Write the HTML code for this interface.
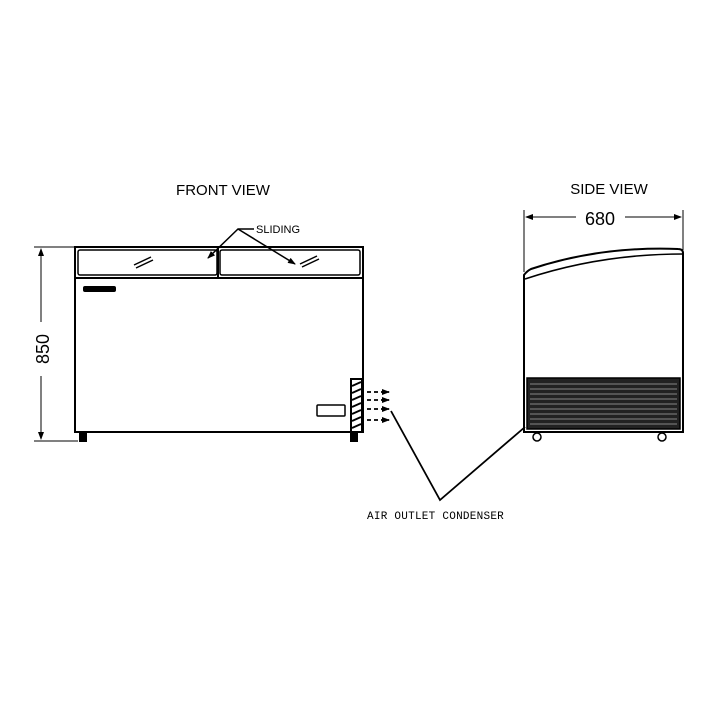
<!DOCTYPE html>
<html><head><style>body{margin:0;background:#fff}svg{display:block}</style></head><body>
<svg width="720" height="720" viewBox="0 0 720 720" xmlns="http://www.w3.org/2000/svg" font-family="Liberation Sans, sans-serif">
<defs><marker id="a" markerWidth="8" markerHeight="6" refX="7" refY="3" orient="auto-start-reverse" markerUnits="userSpaceOnUse"><path d="M0,0L8,3L0,6z" fill="#000"/></marker></defs>
<text x="223" y="195" font-size="15" text-anchor="middle">FRONT VIEW</text>
<text x="609" y="194" font-size="15" text-anchor="middle">SIDE VIEW</text>
<rect x="75" y="247" width="288" height="185" fill="none" stroke="#000" stroke-width="2"/>
<line x1="75" y1="278" x2="363" y2="278" stroke="#000" stroke-width="2"/>
<rect x="78" y="250" width="139" height="25" rx="2" fill="none" stroke="#000" stroke-width="1.5"/>
<rect x="220" y="250" width="140" height="25" rx="2" fill="none" stroke="#000" stroke-width="1.5"/>
<line x1="218" y1="248" x2="218" y2="278" stroke="#000" stroke-width="2"/>
<g stroke="#000" stroke-width="1.5"><line x1="134" y1="265" x2="151" y2="257"/><line x1="136" y1="268" x2="153" y2="260"/><line x1="300" y1="264" x2="317" y2="256"/><line x1="302" y1="267" x2="319" y2="259"/></g>
<rect x="83" y="286" width="33" height="6" rx="2" fill="#000"/>
<rect x="317" y="405" width="28" height="11" rx="1" fill="none" stroke="#000" stroke-width="1.5"/>
<rect x="351" y="379" width="11" height="53" fill="#fff" stroke="#000" stroke-width="2"/>
<g stroke="#000" stroke-width="1.8"><line x1="352" y1="386" x2="361" y2="382"/><line x1="352" y1="393" x2="361" y2="389"/><line x1="352" y1="400" x2="361" y2="396"/><line x1="352" y1="407" x2="361" y2="403"/><line x1="352" y1="414" x2="361" y2="410"/><line x1="352" y1="421" x2="361" y2="417"/><line x1="352" y1="428" x2="361" y2="424"/></g>
<rect x="79" y="432" width="8" height="10" fill="#000"/><rect x="350" y="432" width="8" height="10" fill="#000"/>
<g stroke="#000" stroke-width="1.8" stroke-dasharray="4,3" marker-end="url(#a)"><line x1="367" y1="392" x2="389" y2="392"/><line x1="367" y1="400" x2="389" y2="400"/><line x1="367" y1="409" x2="389" y2="409"/><line x1="367" y1="420" x2="389" y2="420"/></g>
<g stroke="#000" stroke-width="1"><line x1="34" y1="247" x2="74" y2="247"/><line x1="34" y1="441" x2="78" y2="441"/><line x1="41" y1="249" x2="41" y2="322" marker-start="url(#a)"/><line x1="41" y1="376" x2="41" y2="439" marker-end="url(#a)"/></g>
<text transform="translate(49,349) rotate(-90)" font-size="18" text-anchor="middle">850</text>
<text x="256" y="233" font-size="11">SLIDING</text>
<g stroke="#000" stroke-width="1.5" fill="none"><polyline points="254,229 238,229 208,258" marker-end="url(#a)"/><line x1="238" y1="229" x2="295" y2="264" marker-end="url(#a)"/></g>
<g stroke="#000" stroke-width="1"><line x1="524" y1="210" x2="524" y2="272"/><line x1="683" y1="210" x2="683" y2="250"/><line x1="526" y1="217" x2="576" y2="217" marker-start="url(#a)"/><line x1="625" y1="217" x2="681" y2="217" marker-end="url(#a)"/></g>
<text x="600" y="225" font-size="18" text-anchor="middle">680</text>
<path d="M524,432 L524,275 Q527,271 531,269 Q600,246 678,249 Q683,249 683,253 L683,432 Z" fill="none" stroke="#000" stroke-width="2"/>
<path d="M525,279 Q600,254 683,254" fill="none" stroke="#000" stroke-width="1.5"/>
<rect x="527" y="378" width="153" height="51" fill="#222" stroke="#000" stroke-width="1.5"/>
<g stroke="#aaa" stroke-width="0.8"><line x1="530" y1="384" x2="677" y2="384"/><line x1="530" y1="389" x2="677" y2="389"/><line x1="530" y1="394" x2="677" y2="394"/><line x1="530" y1="399" x2="677" y2="399"/><line x1="530" y1="404" x2="677" y2="404"/><line x1="530" y1="409" x2="677" y2="409"/><line x1="530" y1="414" x2="677" y2="414"/><line x1="530" y1="419" x2="677" y2="419"/><line x1="530" y1="424" x2="677" y2="424"/></g>
<circle cx="537" cy="437" r="4" fill="#fff" stroke="#000" stroke-width="1.5"/><circle cx="662" cy="437" r="4" fill="#fff" stroke="#000" stroke-width="1.5"/>
<polyline points="391,411 440,500 525,427" fill="none" stroke="#000" stroke-width="1.8"/>
<text x="367" y="519" font-size="11" letter-spacing="0.25" font-family="Liberation Mono, monospace">AIR OUTLET CONDENSER</text>
</svg>
</body></html>
